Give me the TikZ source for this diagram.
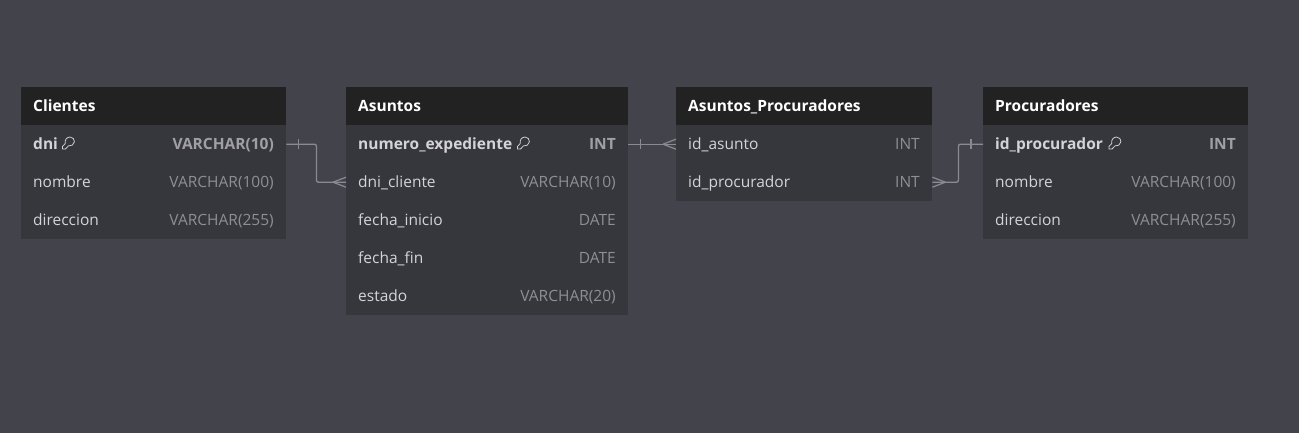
\documentclass[tikz,border=0pt]{standalone}
\usepackage{fontspec}
\setmainfont{Open Sans}
\definecolor{bgc}{HTML}{43434C}
\definecolor{headc}{HTML}{222222}
\definecolor{bodyc}{HTML}{36363D}
\definecolor{txt}{HTML}{D4D4D8}
\definecolor{typ}{HTML}{8E8E93}
\definecolor{typk}{HTML}{A0A0A4}
\definecolor{lin}{HTML}{8A8A91}
\tikzset{x=1pt,y=-1pt,
 head/.style={fill=headc,draw=none,inner sep=0,anchor=north west,minimum height=38pt},
 rowb/.style={fill=bodyc,draw=none,inner sep=0,anchor=north west,minimum height=38pt},
 title/.style={anchor=base west,inner sep=0,yshift=-0.6pt,text=white,font=\fontsize{15.5}{18}\selectfont\bfseries},
 fname/.style={anchor=base west,inner sep=0,yshift=-0.6pt,text=txt,font=\fontsize{15.5}{18}\selectfont},
 kname/.style={fname,font=\fontsize{15.5}{18}\selectfont\bfseries},
 ftype/.style={anchor=base east,inner sep=0,yshift=-0.6pt,text=typ,font=\fontsize{15.5}{18}\selectfont},
 ktype/.style={ftype,text=typk,font=\fontsize{15.5}{18}\selectfont\bfseries},
 keyicon/.style={draw=txt,line width=0.75pt,line join=round},
 conn/.style={draw=lin,line width=1.3pt,rounded corners=2pt},
 tick/.style={draw=lin,line width=1.2pt}
}
\newcommand{\keyglyph}[2]{%
 \draw[keyicon] (#1+1.5,#2+6) -- (#1+1.5,#2+3.5) -- (#1+4.3,#2+0.4)
   .. controls (#1+3.3,#2-3) and (#1+6,#2-6) .. (#1+9,#2-6)
   .. controls (#1+12,#2-6) and (#1+13.6,#2-3.5) .. (#1+13.4,#2-1.2)
   .. controls (#1+13.2,#2+1.8) and (#1+10,#2+3.4) .. (#1+7.5,#2+2.9)
   -- (#1+4.5,#2+6) -- cycle;
}
\begin{document}
\begin{tikzpicture}
\useasboundingbox[fill=bgc] (0,0) rectangle (1299,433);
% Clientes
\node[head,minimum width=265pt] (ch) at (21,87) {};
\node[title] (cht) at (33,110.6) {Clientes};
\node[rowb,minimum width=265pt] (c1) at (21,125) {};
\node[rowb,minimum width=265pt] (c2) at (21,163) {};
\node[rowb,minimum width=265pt] (c3) at (21,201) {};
\node[kname] (c1n) at (33,148.6) {dni};
\node[ktype] (c1t) at (274,148.6) {VARCHAR(10)};
\node[fname] (c2n) at (33,186.6) {nombre};
\node[ftype] (c2t) at (274,186.6) {VARCHAR(100)};
\node[fname] (c3n) at (33,224.6) {direccion};
\node[ftype] (c3t) at (274,224.6) {VARCHAR(255)};
\keyglyph{61}{143}
% Asuntos
\node[head,minimum width=282pt] (ah) at (346,87) {};
\node[title] (aht) at (358,110.6) {Asuntos};
\node[rowb,minimum width=282pt] (a1) at (346,125) {};
\node[rowb,minimum width=282pt] (a2) at (346,163) {};
\node[rowb,minimum width=282pt] (a3) at (346,201) {};
\node[rowb,minimum width=282pt] (a4) at (346,239) {};
\node[rowb,minimum width=282pt] (a5) at (346,277) {};
\node[kname] (a1n) at (358,148.6) {numero\_expediente};
\node[ktype] (a1t) at (616,148.6) {INT};
\node[fname] (a2n) at (358,186.6) {dni\_cliente};
\node[ftype] (a2t) at (616,186.6) {VARCHAR(10)};
\node[fname] (a3n) at (358,224.6) {fecha\_inicio};
\node[ftype] (a3t) at (616,224.6) {DATE};
\node[fname] (a4n) at (358,262.6) {fecha\_fin};
\node[ftype] (a4t) at (616,262.6) {DATE};
\node[fname] (a5n) at (358,300.6) {estado};
\node[ftype] (a5t) at (616,300.6) {VARCHAR(20)};
\keyglyph{516}{143}
% Asuntos_Procuradores
\node[head,minimum width=256pt] (ph) at (676,87) {};
\node[title] (pht) at (688,110.6) {Asuntos\_Procuradores};
\node[rowb,minimum width=256pt] (p1) at (676,125) {};
\node[rowb,minimum width=256pt] (p2) at (676,163) {};
\node[fname] (p1n) at (688,148.6) {id\_asunto};
\node[ftype] (p1t) at (920,148.6) {INT};
\node[fname] (p2n) at (688,186.6) {id\_procurador};
\node[ftype] (p2t) at (920,186.6) {INT};
% Procuradores
\node[head,minimum width=265pt] (rh) at (983,87) {};
\node[title] (rht) at (995,110.6) {Procuradores};
\node[rowb,minimum width=265pt] (r1) at (983,125) {};
\node[rowb,minimum width=265pt] (r2) at (983,163) {};
\node[rowb,minimum width=265pt] (r3) at (983,201) {};
\node[kname] (r1n) at (995,148.6) {id\_procurador};
\node[ktype] (r1t) at (1236,148.6) {INT};
\node[fname] (r2n) at (995,186.6) {nombre};
\node[ftype] (r2t) at (1236,186.6) {VARCHAR(100)};
\node[fname] (r3n) at (995,224.6) {direccion};
\node[ftype] (r3t) at (1236,224.6) {VARCHAR(255)};
\keyglyph{1107.5}{143}
% connectors
\draw[conn] (c1.east) -- ++(30,0) |- (a2.west);
\draw[tick] ([xshift=12pt,yshift=-5pt]c1.east) -- ([xshift=12pt,yshift=5pt]c1.east);
\draw[tick] ([xshift=-13pt]a2.west) -- ([yshift=-5pt]a2.west);
\draw[tick] ([xshift=-13pt]a2.west) -- ([yshift=5pt]a2.west);
\draw[conn] (a1.east) -- (p1.west);
\draw[tick] ([xshift=12pt,yshift=-5pt]a1.east) -- ([xshift=12pt,yshift=5pt]a1.east);
\draw[tick] ([xshift=-13pt]p1.west) -- ([yshift=-5pt]p1.west);
\draw[tick] ([xshift=-13pt]p1.west) -- ([yshift=5pt]p1.west);
\draw[conn] (p2.east) -- ++(26,0) |- (r1.west);
\draw[tick] ([xshift=-12pt,yshift=-5pt]r1.west) -- ([xshift=-12pt,yshift=5pt]r1.west);
\draw[tick] ([xshift=13pt]p2.east) -- ([yshift=-5pt]p2.east);
\draw[tick] ([xshift=13pt]p2.east) -- ([yshift=5pt]p2.east);
\end{tikzpicture}
\end{document}
